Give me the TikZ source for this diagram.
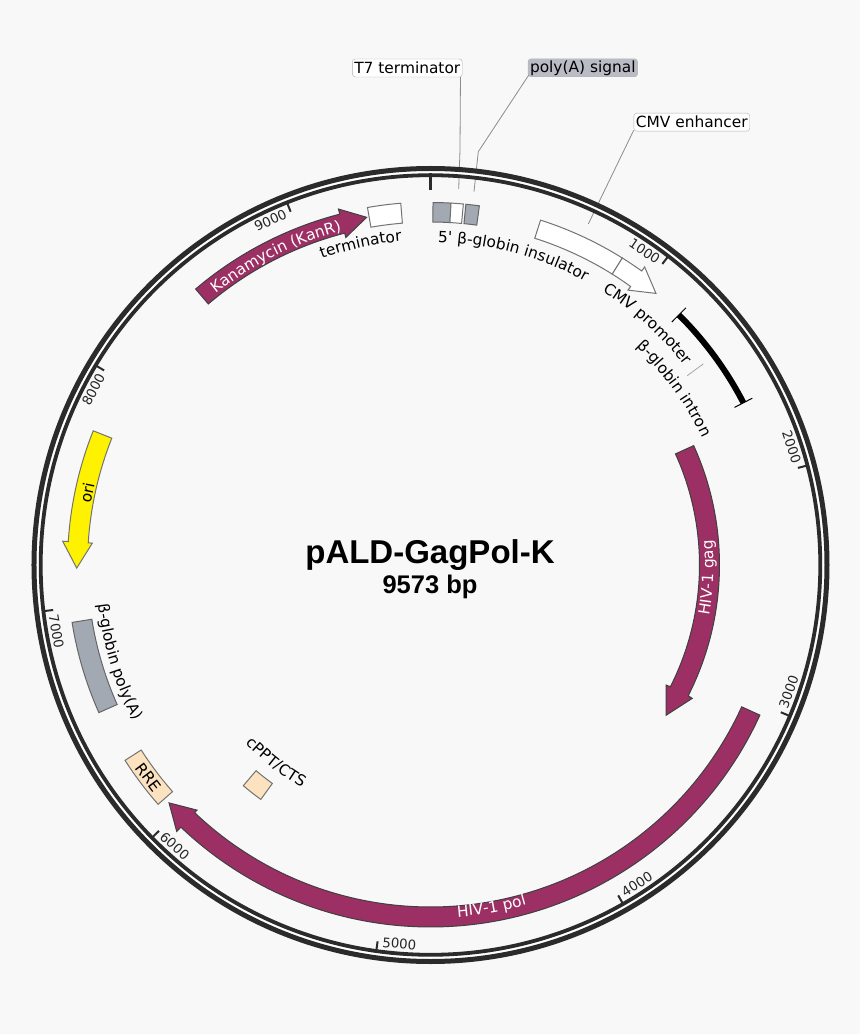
\documentclass[tikz,border=0pt]{standalone}
\usepackage{fontspec}
\newfontfamily\labelfamily{DejaVu Sans}
\newfontfamily\titlefont{Liberation Sans}
\usetikzlibrary{decorations.text}
\definecolor{pagebg}{HTML}{F8F8F8}
\definecolor{ringdark}{HTML}{2B2B2B}
\definecolor{plum}{HTML}{9C3064}
\definecolor{steel}{HTML}{A3A9B2}
\definecolor{peach}{HTML}{FDE2C0}
\definecolor{badge}{HTML}{B9BCC4}
\newcommand{\lblfont}{\labelfamily\fontsize{15.4}{18}\selectfont}
\tikzstyle{ring} = [draw=ringdark]
\tikzstyle{tickmark} = [draw=ringdark, line width=2pt]
\tikzstyle{ticklabel} = [font=\labelfamily\fontsize{13.3}{16}\selectfont, text=black!85, inner sep=0pt]
\tikzstyle{plumbox} = [draw=black!75, fill=plum, line width=1pt, line join=miter]
\tikzstyle{plainbox} = [draw=black!55, fill=white, line width=1pt]
\tikzstyle{steelbox} = [draw=black!60, fill=steel, line width=1pt]
\tikzstyle{peachbox} = [draw=black!55, fill=peach, line width=1pt]
\tikzstyle{oribox} = [draw=black!55, fill=yellow, line width=1pt]
\tikzstyle{callout} = [rectangle, rounded corners=3pt, draw=black!30, fill=white, font=\lblfont, inner xsep=2pt, inner ysep=0pt, minimum height=18pt]
\tikzstyle{leader} = [draw=black!45, line width=0.8pt]
\tikzstyle{curved} = [decorate, decoration={text along path, text={#1}, text align=center}]

\begin{document}
\begin{tikzpicture}[x=1pt, y=1pt]

\fill [pagebg] (-430.5,-469) rectangle (429.5,565);
\useasboundingbox (-430.5,-469) rectangle (429.5,565);

% callouts
\node (t7) [callout] at (-23.2,497) {T7 terminator};
\node (polya) [callout, fill=badge] at (152.3,497.2) {poly(A) signal};
\node (cmvenh) [callout] at (261.3,442.8) {CMV enhancer};
\coordinate (t7bend) at (29.5,415);
\coordinate (t7end) at (28.2,376);
\coordinate (polyabend) at (47.8,413.3);
\coordinate (polyaend) at (43.5,373.3);
\coordinate (cmvenhend) at (157.8,341);
\draw [leader] ([xshift=-2pt]t7.south east) -- (t7bend) -- (t7end);
\draw [leader] ([xshift=1pt,yshift=2pt]polya.south west) -- (polyabend) -- (polyaend);
\draw [leader] ([yshift=1pt]cmvenh.south west) -- (cmvenhend);

% backbone
\draw [white, line width=3pt] (0,0) circle (393);
\draw [ring, line width=5pt] (0,0) circle (396.5);
\draw [ring, line width=3.8pt] (0,0) circle (389.8);
\draw [ring, line width=3.6pt] (90:375) -- (90:392);
\foreach \ang/\txt/\rot in {52.4/1000/-34.3, 14.8/2000/-71.9, -22.8/3000/70.5, -60.4/4000/32.9, -98/5000/-4.7, -135.6/6000/-42.3, -173.2/7000/-79.9, -210.8/8000/62.5, -248.4/9000/24.9} {
  \draw [tickmark] (\ang:380) -- (\ang:390);
  \node (tick\txt) [ticklabel, rotate=\rot] at (\ang+3.3:380) {\txt};
}

% features
\draw [plumbox] (24.4:269) arc (24.4:-26.9:269) -- (-27:264.5) -- (-32.5:279.5) -- (-27:293.8) -- (-26.9:289) arc (-26.9:24.4:289) -- cycle;
\draw [plumbox] (-24.5:362) arc (-24.5:-133.6:362) -- (-133.6:368) -- (-137.7:353.5) -- (-133.6:338.5) -- (-133.6:342) arc (-133.6:-24.5:342) -- cycle;
\draw [plumbox] (130.4:362.4) arc (130.4:104.5:362.4) -- (104.5:367.7) -- (100.4:353.5) -- (104.5:338.3) -- (104.5:342.8) arc (104.5:130.4:342.8) -- cycle;
\draw [plainbox] (100:363) arc (100:94.7:363) -- (94.7:343) arc (94.7:100:343) -- cycle;
\draw [steelbox] (89.6:362.5) arc (89.6:86.75:362.5) -- (86.75:343) arc (86.75:89.6:343) -- cycle;
\draw [plainbox] (86.75:362.5) arc (86.75:84.8:362.5) -- (84.8:343) arc (84.8:86.75:343) -- cycle;
\draw [steelbox] (84.4:362.5) arc (84.4:82.25:362.5) -- (82.25:343) arc (82.25:84.4:343) -- cycle;
\draw [plainbox] (72.3:362) arc (72.3:58:362) -- (58:343) arc (58:72.3:343) -- cycle;
\draw [plainbox] (58:362) arc (58:54.3:362) -- (54.3:367) -- (50.3:353) -- (54.3:338.5) -- (54.3:343) arc (54.3:58:343) -- cycle;
\draw [oribox] (158.3:363) arc (158.3:176.3:363) -- (176.3:368.6) -- (180.5:353.8) -- (176.3:338.9) -- (176.3:343) arc (176.3:158.3:343) -- cycle;
\draw [steelbox] (189.1:363) arc (189.1:204:363) -- (204:343) arc (204:189.1:343) -- cycle;
\draw [peachbox] (212.6:362.6) arc (212.6:221.3:362.6) -- (221.3:343.4) arc (221.3:212.6:343.4) -- cycle;
\draw [peachbox] (229.7:289.4) arc (229.7:234.1:289.4) -- (234.1:269.7) arc (234.1:229.7:269.7) -- cycle;

% intron bar
\draw [line width=6pt] (45.2:352.5) arc (45.2:27.4:352.5);
\draw [line width=1pt] (45.2:342.5) -- (45.2:362.5);
\draw [line width=1pt] (27.4:342.5) -- (27.4:362.5);
\coordinate (intronfoot) at (36.4:319);
\coordinate (intronhead) at (36.4:339);
\draw [draw=black!35, line width=0.8pt] (intronfoot) -- (intronhead);

% labels on the arcs
\path [curved={|\lblfont\color{white}|Kanamycin (KanR)}] (130:346) arc (130:103.2:346);
\path [curved={|\lblfont\color{white}|HIV-1 gag}] (-15.2:283) arc (-15.2:10:283);
\path [curved={|\lblfont\color{white}|HIV-1 pol}] (-95:353) arc (-95:-64.8:353);
\path [curved={|\lblfont|terminator}] (112:325) arc (112:92.6:325);
\path [curved={|\lblfont|5' β-globin insulator}] (95:323) arc (95:55.1:323);
\path [curved={|\lblfont|CMV promoter}] (60:323) arc (60:36:323);
\path [curved={|\lblfont|β-globin intron}] (51.6:300) arc (51.6:20.1:300);
\path [curved={|\lblfont|β-globin poly(A)}] (182.5:335) arc (182.5:212.1:335);
\path [curved={|\lblfont|cPPT/CTS}] (218:257) arc (218:246:257);
\node (rre) [font=\lblfont, inner sep=0pt, rotate=-53] at (217:353) {RRE};
\node (ori) [font=\lblfont, inner sep=0pt, rotate=78] at (168.1:351) {ori};

% title
\node (title) [font=\titlefont\bfseries\fontsize{33}{38}\selectfont, inner sep=0pt] at (-0.5,10) {pALD-GagPol-K};
\node (size) [font=\titlefont\bfseries\fontsize{25.5}{30}\selectfont, inner sep=0pt] at (-0.5,-22) {9573 bp};

\end{tikzpicture}
\end{document}
